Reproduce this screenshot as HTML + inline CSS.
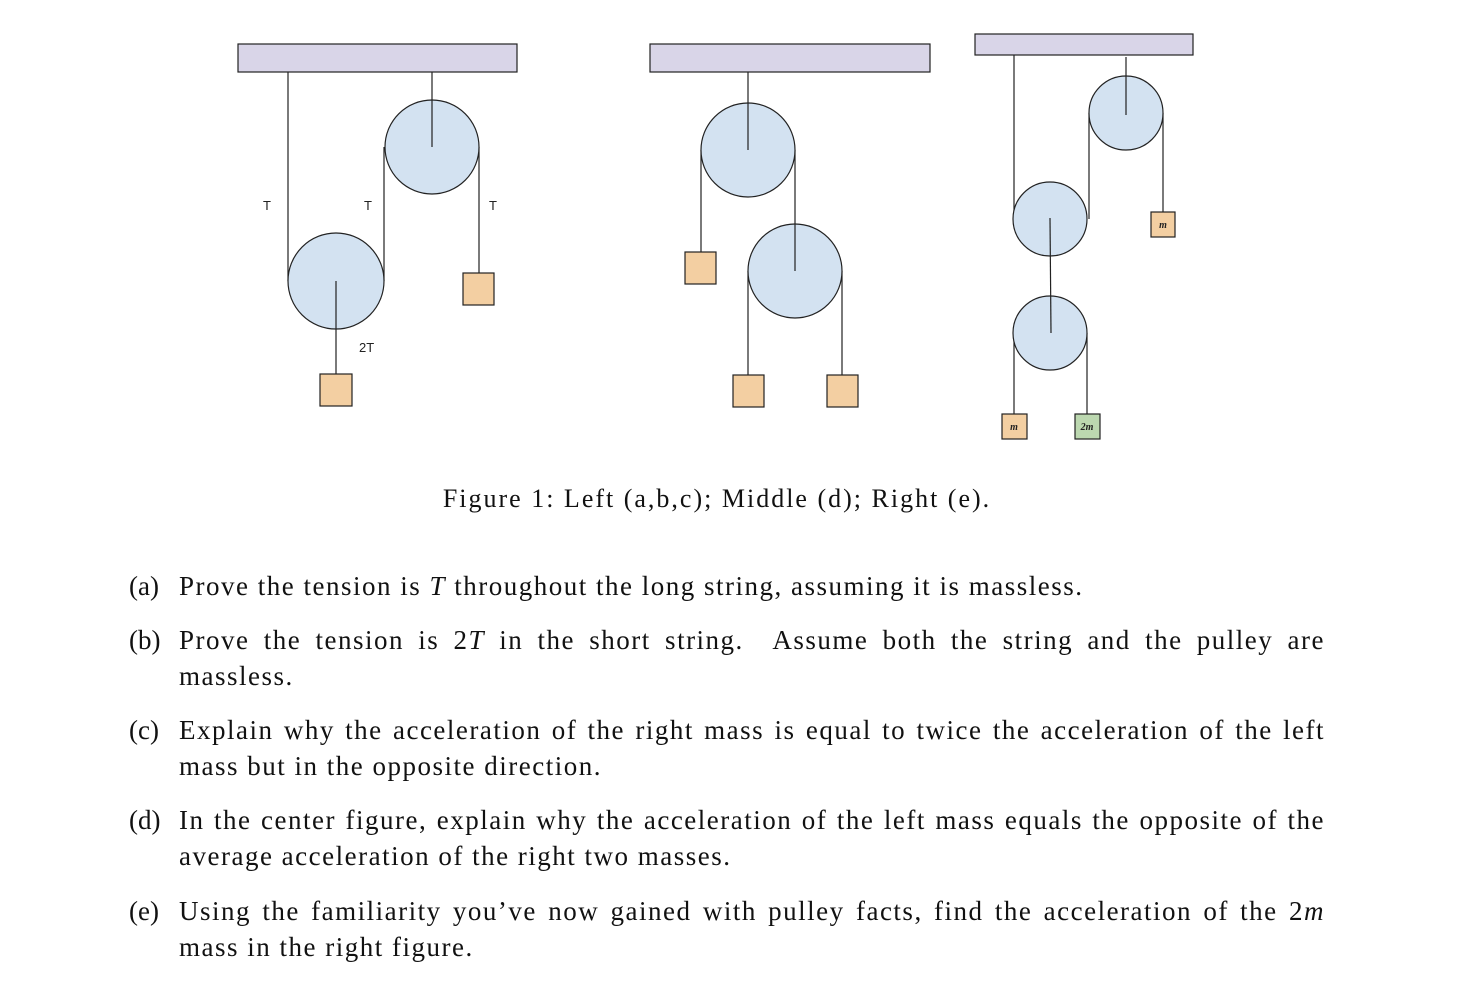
<!DOCTYPE html>
<html><head><style>
body{margin:0;background:#fff;width:1458px;height:999px;position:relative;overflow:hidden;font-family:"Liberation Serif",serif;color:#111}
.cap{position:absolute;top:484px;left:0;width:1434px;text-align:center;font-size:26px;letter-spacing:2px}
.it{position:absolute;left:179px;width:1146px;font-size:27px;letter-spacing:1.5px;line-height:36px;text-align:justify}
.lb{position:absolute;left:-50px;letter-spacing:0}
.it i{font-style:italic}
</style></head><body>
<svg width="1458" height="470" style="position:absolute;left:0;top:0" font-family="Liberation Sans, sans-serif">
<g stroke="#222" stroke-width="1.2">
<rect x="238" y="44" width="279" height="28" fill="#d9d5e8"/>
<line x1="288" y1="72" x2="288" y2="281"/><line x1="384" y1="147" x2="384" y2="281"/>
<line x1="479" y1="147" x2="479" y2="273"/>
<circle cx="432" cy="147" r="47" fill="#d3e2f1"/><circle cx="336" cy="281" r="48" fill="#d3e2f1"/>
<line x1="432" y1="72" x2="432" y2="147"/>
<line x1="336" y1="281" x2="336" y2="374"/>
<rect x="463" y="273" width="31" height="32" fill="#f3cfa2"/><rect x="320" y="374" width="32" height="32" fill="#f3cfa2"/>

<rect x="650" y="44" width="280" height="28" fill="#d9d5e8"/>
<line x1="701" y1="150" x2="701" y2="252"/><line x1="795" y1="150" x2="795" y2="271"/>
<circle cx="748" cy="150" r="47" fill="#d3e2f1"/>
<line x1="748" y1="72" x2="748" y2="150"/>
<line x1="748" y1="271" x2="748" y2="375"/><line x1="842" y1="271" x2="842" y2="375"/>
<circle cx="795" cy="271" r="47" fill="#d3e2f1"/>
<line x1="795" y1="224" x2="795" y2="271"/>
<rect x="685" y="252" width="31" height="32" fill="#f3cfa2"/>
<rect x="733" y="375" width="31" height="32" fill="#f3cfa2"/><rect x="827" y="375" width="31" height="32" fill="#f3cfa2"/>

<rect x="975" y="34" width="218" height="21" fill="#d9d5e8"/>
<line x1="1014" y1="55" x2="1014" y2="219"/><line x1="1089" y1="113" x2="1089" y2="219"/>
<line x1="1163" y1="113" x2="1163" y2="212"/>
<circle cx="1126" cy="113" r="37" fill="#d3e2f1"/>
<line x1="1126" y1="57" x2="1126" y2="115"/>
<line x1="1014" y1="333" x2="1014" y2="414"/><line x1="1087" y1="333" x2="1087" y2="414"/>
<circle cx="1050" cy="219" r="37" fill="#d3e2f1"/>
<circle cx="1050" cy="333" r="37" fill="#d3e2f1"/>
<line x1="1050" y1="218" x2="1051" y2="333"/>
<rect x="1151" y="212" width="24" height="25" fill="#f3cfa2"/>
<rect x="1002" y="414" width="25" height="25" fill="#f3cfa2"/>
<rect x="1075" y="414" width="25" height="25" fill="#bcd8b0"/>
</g>
<g font-size="13" fill="#222"><text x="263" y="210">T</text><text x="364" y="210">T</text><text x="489" y="210">T</text><text x="359" y="352">2T</text></g>
<g font-family="Liberation Serif, serif" font-style="italic" font-weight="bold" font-size="10" fill="#222" text-anchor="middle">
<text x="1163" y="228">m</text><text x="1014" y="430">m</text><text x="1087" y="430">2m</text></g>
</svg>
<div class="cap">Figure 1: Left (a,b,c); Middle (d); Right (e).</div>
<div class="it" style="top:568px"><span class="lb">(a)</span>Prove the tension is <i>T</i> throughout the long string, assuming it is massless.</div>
<div class="it" style="top:622px"><span class="lb">(b)</span>Prove the tension is 2<i>T</i> in the short string. &nbsp;Assume both the string and the pulley are massless.</div>
<div class="it" style="top:712px"><span class="lb">(c)</span>Explain why the acceleration of the right mass is equal to twice the acceleration of the left mass but in the opposite direction.</div>
<div class="it" style="top:802px"><span class="lb">(d)</span>In the center figure, explain why the acceleration of the left mass equals the opposite of the average acceleration of the right two masses.</div>
<div class="it" style="top:893px"><span class="lb">(e)</span>Using the familiarity you’ve now gained with pulley facts, find the acceleration of the 2<i>m</i> mass in the right figure.</div>
</body></html>
